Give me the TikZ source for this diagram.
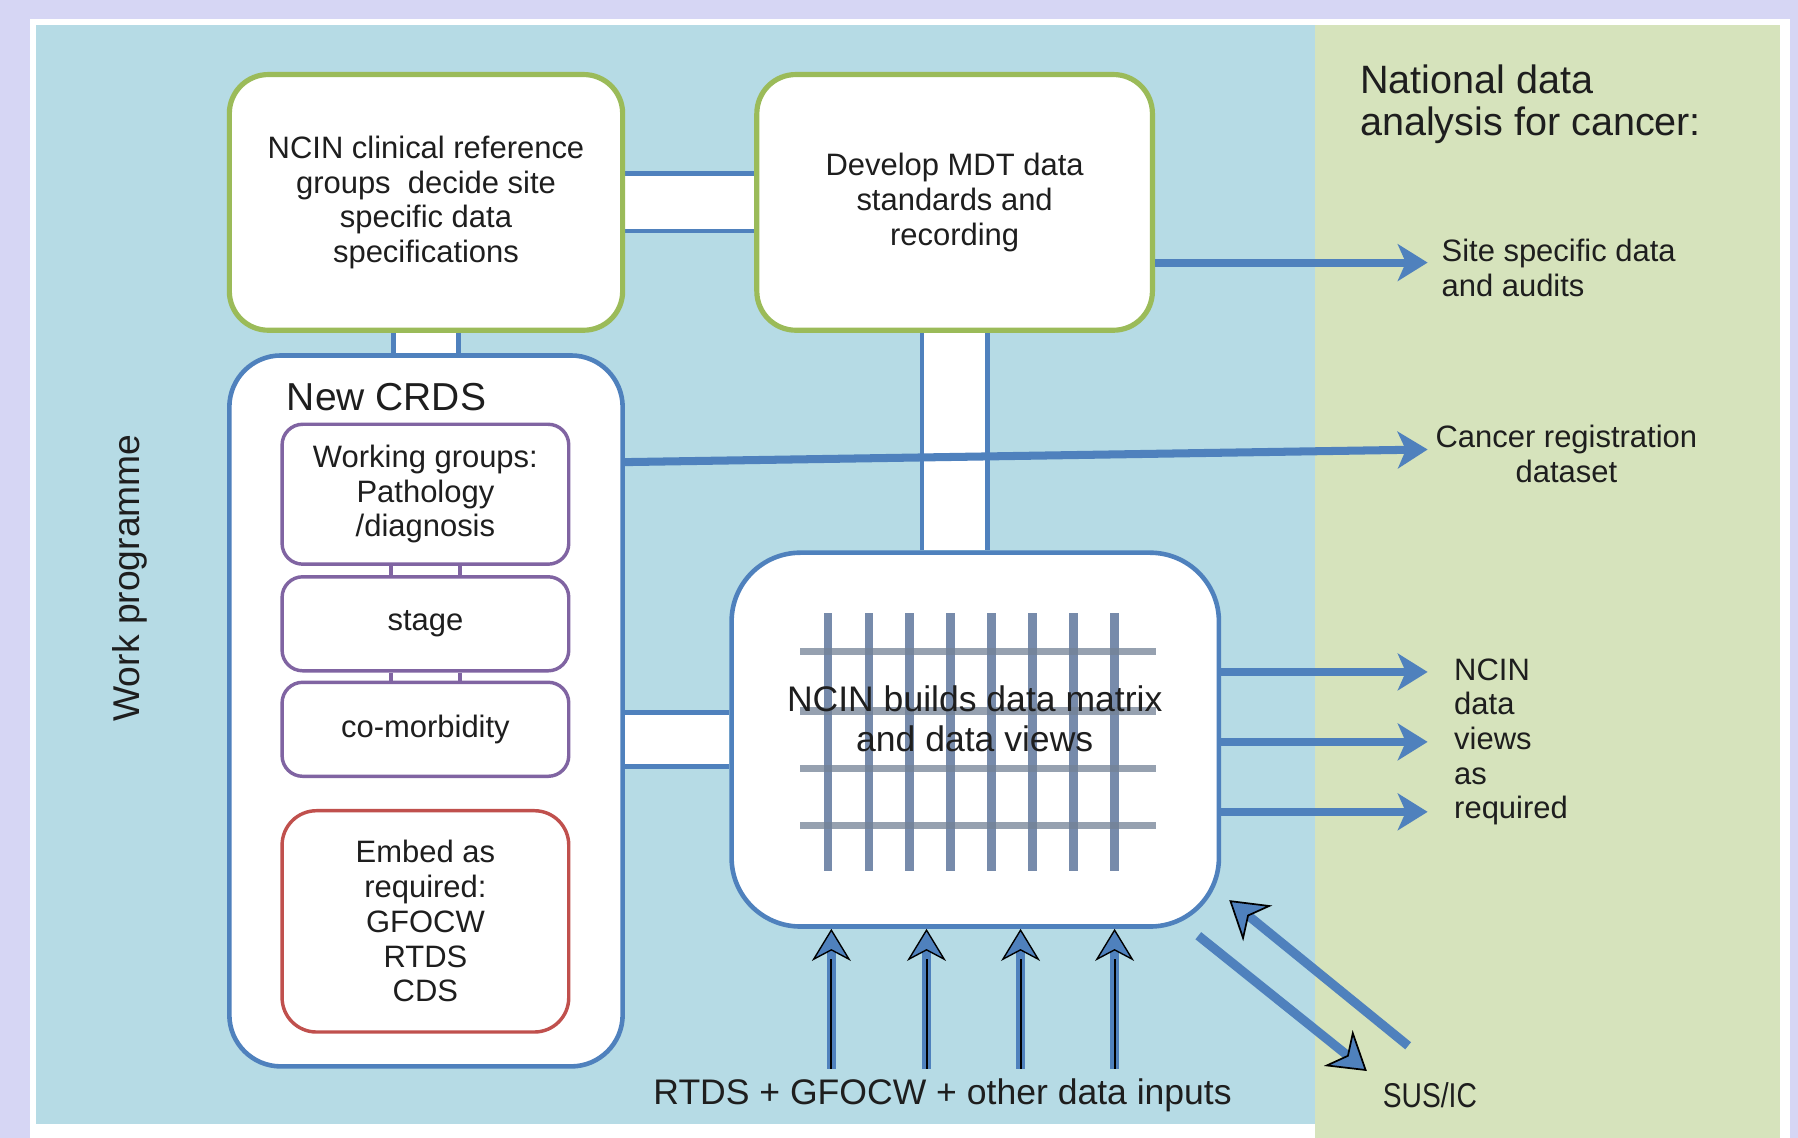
\documentclass[tikz,border=0pt]{standalone}
\usepackage{fontspec}
\setmainfont{Liberation Sans}
\usetikzlibrary{arrows.meta,calc}
\definecolor{lav}{RGB}{214,214,244}
\definecolor{lblue}{RGB}{182,219,229}
\definecolor{lgreen}{RGB}{214,227,188}
\definecolor{gbord}{RGB}{155,187,89}
\definecolor{bbord}{RGB}{79,129,189}
\definecolor{pbord}{RGB}{128,100,162}
\definecolor{rbord}{RGB}{192,80,77}
\definecolor{gridvc}{RGB}{85,110,150}
\definecolor{gridhc}{RGB}{115,130,150}
\definecolor{txtc}{RGB}{30,30,30}
\pgfdeclarelayer{bg}
\pgfdeclarelayer{pipes}
\pgfsetlayers{bg,pipes,main}
\tikzset{
  txt/.style={font=\fontsize{27}{30.3}\selectfont, align=center, inner sep=0pt, text=txtc},
  greenbox/.style={txt, draw=gbord, fill=white, line width=4.5pt, rounded corners=34pt},
  bluebox/.style={draw=bbord, fill=white, line width=4pt},
  purplebox/.style={txt, draw=pbord, fill=white, line width=3pt, rounded corners=18pt},
  redbox/.style={txt, draw=rbord, fill=white, line width=3pt, rounded corners=30pt},
  pipe/.style={draw=bbord, line width=4pt, double=white, double distance=#1},
  pside/.style={draw=pbord, line width=3pt},
  gridv/.style={draw=gridvc, line width=7.5pt, opacity=0.8},
  gridh/.style={draw=gridhc, line width=6.5pt, opacity=0.75},
  arr/.style={draw=bbord, line width=7pt, -{Stealth[length=26pt,width=32pt,inset=7pt]}},
  uparr/.style={draw=bbord, line width=8pt, -{Stealth[length=28pt,width=34pt,inset=9pt,color=black,fill=bbord,line width=1.2pt]},
    postaction={draw=black, line width=1.8pt, -, shorten >=26pt}},
  darr/.style={draw=bbord, line width=8pt, -{Stealth[length=32pt,width=40pt,inset=10pt,color=black,fill=bbord,line width=1.5pt]}},
}
\begin{document}
\begin{tikzpicture}[x=1pt,y=-1pt]
\useasboundingbox (0,0) rectangle (1568,992);
\begin{pgfonlayer}{bg}
  \fill[lav] (0,0) rectangle (1568,992);
  \fill[white] (26,16.5) rectangle (1561,992);
  \fill[lblue] (31.5,22) rectangle (1147,980);
  \fill[lgreen] (1147,22) rectangle (1552,992);
\end{pgfonlayer}

% main boxes
\node[greenbox, minimum width=343pt, minimum height=223pt] (b1) at (371.5,176.5)
  {NCIN clinical reference\\groups\ \ decide site\\specific data\\specifications};
\node[greenbox, minimum width=345pt, minimum height=223pt] (b2) at (832.5,176.5)
  {Develop MDT data\\standards and\\recording};
\node[bluebox, rounded corners=45pt, minimum width=343pt, minimum height=620pt] (crds) at (371.5,620) {};
\node[txt, font=\fontsize{34}{38}\selectfont, anchor=west] (crdst) at (250,346) {New CRDS};
\node[purplebox, minimum width=250pt, minimum height=122pt] (wg) at (371,431)
  {Working groups:\\Pathology\\/diagnosis};
\node[purplebox, minimum width=250pt, minimum height=82pt] (st) at (371,544) {stage};
\node[purplebox, minimum width=250pt, minimum height=82pt] (cm) at (371,636) {co-morbidity};
\node[redbox, minimum width=250pt, minimum height=193pt] (emb) at (371,803.5)
  {Embed as\\required:\\GFOCW\\RTDS\\CDS};
\node[bluebox, rounded corners=60pt, minimum width=425pt, minimum height=326pt] (nb) at (850.5,645) {};

% grid inside matrix box
\foreach \i in {0,...,7} \draw[gridv] ({722+35.7*\i},535) -- ({722+35.7*\i},760);
\foreach \y in {568,620,670,720} \draw[gridh] (698,\y) -- (1008,\y);
\node[txt, font=\fontsize{31}{35}\selectfont] (nbt) at (850,627) {NCIN builds data matrix\\and data views};

% pipes
\begin{pgfonlayer}{pipes}
  \draw[pipe=46pt] (b1) -- (b2);
  \draw[pipe=53pt] (b1) -- (crds);
  \draw[pipe=53pt] (b2.south) -- (b2.south |- nb.north);
  \draw[pipe=43pt] (crds.east |- nb.west) -- (nb.west);
\end{pgfonlayer}
\draw[pside] ([xshift=-30pt]wg.south) -- ([xshift=-30pt]st.north);
\draw[pside] ([xshift=30pt]wg.south) -- ([xshift=30pt]st.north);
\draw[pside] ([xshift=-30pt]st.south) -- ([xshift=-30pt]cm.north);
\draw[pside] ([xshift=30pt]st.south) -- ([xshift=30pt]cm.north);

% labels
\node[txt, anchor=west, align=left] (site) at (1257,233.5) {Site specific data\\and audits};
\node[txt] (cr) at (1366,396) {Cancer registration\\dataset};
\node[txt, anchor=west, align=left] (ndv) at (1268,647) {NCIN\\data\\views\\as\\required};
\node[txt, anchor=west, align=left, font=\fontsize{34.5}{36.5}\selectfont] (nat) at (1186,91)
  {National data\\analysis for cancer:};
\node[txt, font=\fontsize{31}{35}\selectfont] (rtds) at (822,955) {RTDS + GFOCW + other data inputs};
\node[txt, font=\fontsize{30}{34}\selectfont, xscale=0.82] (sus) at (1247,955) {SUS/IC};
\node[txt, rotate=90, font=\fontsize{32.5}{36}\selectfont] (wp) at (113,504) {Work programme};

% arrows to the right
\coordinate (a1) at (1245,229);
\draw[arr] (b2.east |- a1) -- (a1);
\coordinate (a2) at (1245,392);
\draw[arr] ([yshift=217pt]crds.east) -- (a2);
\coordinate (t1) at (1245,586);
\coordinate (t2) at (1245,647);
\coordinate (t3) at (1245,708);
\draw[arr] (nb.east |- t1) -- (t1);
\draw[arr] (nb.east |- t2) -- (t2);
\draw[arr] (nb.east |- t3) -- (t3);

% input arrows
\coordinate (u1) at (725,932);
\coordinate (u2) at (808,932);
\coordinate (u3) at (890,932);
\coordinate (u4) at (972,932);
\foreach \i in {1,...,4} \draw[uparr] (u\i) -- (u\i |- nb.south);

% SUS/IC exchange
\coordinate (s1) at (1192,934);
\coordinate (s2) at (1228,912);
\draw[darr] ([shift={(-20pt,-6pt)}]nb.south east) -- (s1);
\draw[darr] (s2) -- ([shift={(7pt,25pt)}]nb.south east);
\end{tikzpicture}
\end{document}
